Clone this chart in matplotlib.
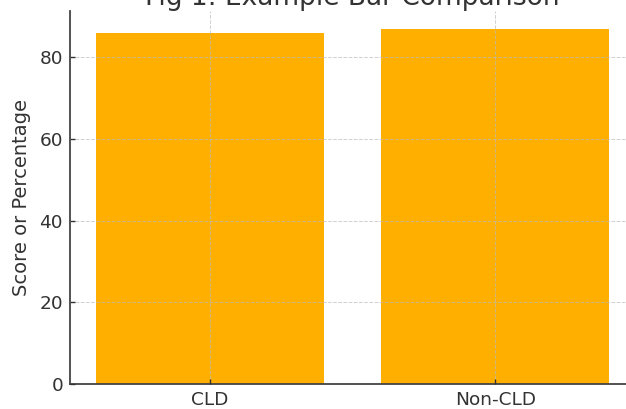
import matplotlib
matplotlib.use("Agg")
import matplotlib.pyplot as plt

# values
groups = ["CLD", "Non-CLD"]
scores = [86, 87]

bar_color = "#FFAF00"
text_color = "#333333"

fig = plt.figure(figsize=(6.26, 4.09), dpi=100)
# the reference is a crop: right side and title run past the edge
ax = fig.add_axes([0.1118, 0.0611, 0.9026, 0.912])

ax.bar(groups, scores, width=0.8, color=bar_color)

ax.set_ylabel("Score or Percentage", fontsize=14, color=text_color, labelpad=6)
ax.set_title("Fig 1: Example Bar Comparison", fontsize=19, color=text_color, pad=2)

ax.set_yticks([0, 20, 40, 60, 80])
ax.tick_params(axis="both", direction="in", labelsize=13.3, colors=text_color,
               length=3.6, width=1.0)
ax.tick_params(axis="x", pad=5)
ax.tick_params(axis="y", pad=5)

# grid sits on top of the bars like in the reference
ax.set_axisbelow(False)
ax.grid(True, linestyle="--", linewidth=0.7, color="#bbbbbb", alpha=0.7)

for side in ["top", "right"]:
    ax.spines[side].set_visible(False)
for side in ["left", "bottom"]:
    ax.spines[side].set_color("#444444")
    ax.spines[side].set_linewidth(1.3)

fig.savefig("out.png", dpi=100)
